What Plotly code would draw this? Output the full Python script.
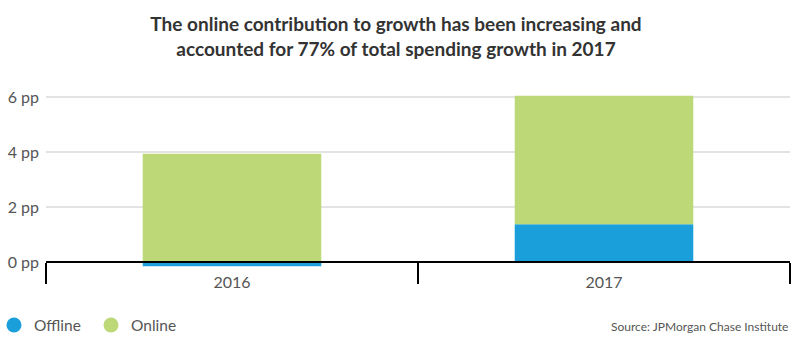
import plotly.graph_objects as go

# Contribution to total spending growth, in percentage points
years = ["2016", "2017"]
offline = [-0.15, 1.38]
online = [3.95, 4.68]

series_names = ["Offline", "Online"]
series_colors = ["#1a9fdb", "#bdd977"]

y_ticks = [0, 2, 4, 6]
y_tick_labels = [f"{v} pp" for v in y_ticks]

title_text = ("The online contribution to growth has been increasing and<br>"
              "accounted for 77% of total spending growth in 2017")
source_text = "Source: JPMorgan Chase Institute"

y_min, y_max = -0.8, 6.6

fig = go.Figure()
for name, vals, color in zip(series_names, [offline, online], series_colors):
    fig.add_trace(go.Bar(x=years, y=vals, name=name, marker_color=color,
                         marker_line_width=0, width=0.48, showlegend=False))

# Circular legend markers
for name, color in zip(series_names, series_colors):
    fig.add_trace(go.Scatter(x=[None], y=[None], mode="markers", name=name,
                             marker=dict(symbol="circle", size=15, color=color)))

font_family = "Lato, 'Open Sans', sans-serif"

fig.update_layout(
    width=792, height=339,
    margin=dict(l=46, r=2, t=80.5, b=54.5, autoexpand=False),
    paper_bgcolor="white", plot_bgcolor="white",
    barmode="relative",
    font=dict(family=font_family, size=15, color="#555555"),
    title=dict(text=title_text, x=0.5, xanchor="center",
               yref="container", y=1 - 31 / 339, yanchor="middle",
               font=dict(family=font_family, size=19, color="#333333",
                         weight="bold")),
    showlegend=True,
    legend=dict(orientation="h", xref="paper", yref="container",
                x=-52 / 744, xanchor="left", y=0.04, yanchor="middle",
                font=dict(size=15.5, color="#555555"),
                entrywidth=52, entrywidthmode="pixels",
                tracegroupgap=0,
                bgcolor="rgba(0,0,0,0)"),
    xaxis=dict(
        type="category",
        anchor="free",
        position=(0 - y_min) / (y_max - y_min),
        showline=True, linecolor="black", linewidth=1.5,
        ticks="outside", tickson="boundaries", ticklen=21,
        tickcolor="black", tickwidth=1.5,
        ticklabelstandoff=6,
        tickfont=dict(size=16, color="#555555"),
        showgrid=False, zeroline=False,
        layer="above traces",
        automargin=False,
        range=[-0.5, 1.5],
    ),
    yaxis=dict(
        range=[y_min, y_max],
        tickmode="array",
        tickvals=y_ticks,
        ticktext=y_tick_labels,
        showgrid=True, gridcolor="#e3e3e3", gridwidth=1.5,
        zeroline=False, showline=False,
        ticks="", ticklabelstandoff=6,
        tickfont=dict(size=16, color="#555555"),
        automargin=False,
    ),
    annotations=[dict(text=source_text, xref="paper", yref="paper",
                      x=1, xanchor="right", y=-0.208, yanchor="middle",
                      showarrow=False,
                      font=dict(size=12, color="#555555"))],
)

fig.write_html("out.html")
